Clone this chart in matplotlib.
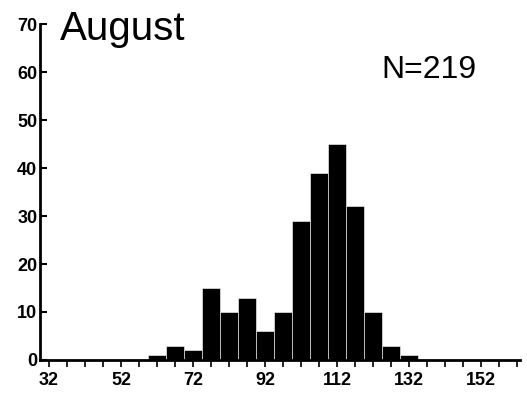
import matplotlib.pyplot as plt
import numpy as np

# length classes (bin centres, 5-unit bins) and counts for August
centres = [62, 67, 72, 77, 82, 87, 92, 97, 102, 107, 112, 117, 122, 127, 132]
counts = [1, 3, 2, 15, 10, 13, 6, 10, 29, 39, 45, 32, 10, 3, 1]
xticklabels = [32, 52, 72, 92, 112, 132, 152]
yticks = [0, 10, 20, 30, 40, 50, 60, 70]

plt.rcParams['font.family'] = ['Liberation Sans', 'DejaVu Sans']

fig = plt.figure(figsize=(5.27, 3.96), dpi=100)
ax = fig.add_axes([0.076, 0.091, 0.911, 0.848])

ax.bar(centres, counts, width=5, color='black', edgecolor='white', linewidth=0.4)

ax.set_xlim(29.5, 162.8)
ax.set_ylim(0, 70)
ax.set_xticks(xticklabels)
ax.set_xticklabels([str(v) for v in xticklabels], fontsize=13, fontweight='bold')
ax.set_xticks(np.arange(32, 163, 5), minor=True)
ax.set_yticks(yticks)
ax.set_yticklabels([str(v) for v in yticks], fontsize=13, fontweight='bold')

ax.spines['top'].set_visible(False)
ax.spines['right'].set_visible(False)
ax.spines['left'].set_linewidth(2)
ax.spines['bottom'].set_linewidth(2)
ax.tick_params(axis='y', direction='in', length=5, width=1.5, pad=2)
ax.tick_params(axis='x', which='both', direction='out', length=5, width=1.2, pad=4)

ax.text(0.042, 0.952, 'August', transform=ax.transAxes, fontsize=29,
        va='baseline', ha='left')
ax.text(0.71, 0.839, 'N=219', transform=ax.transAxes, fontsize=23,
        va='baseline', ha='left')

fig.savefig('out.png', dpi=100)
